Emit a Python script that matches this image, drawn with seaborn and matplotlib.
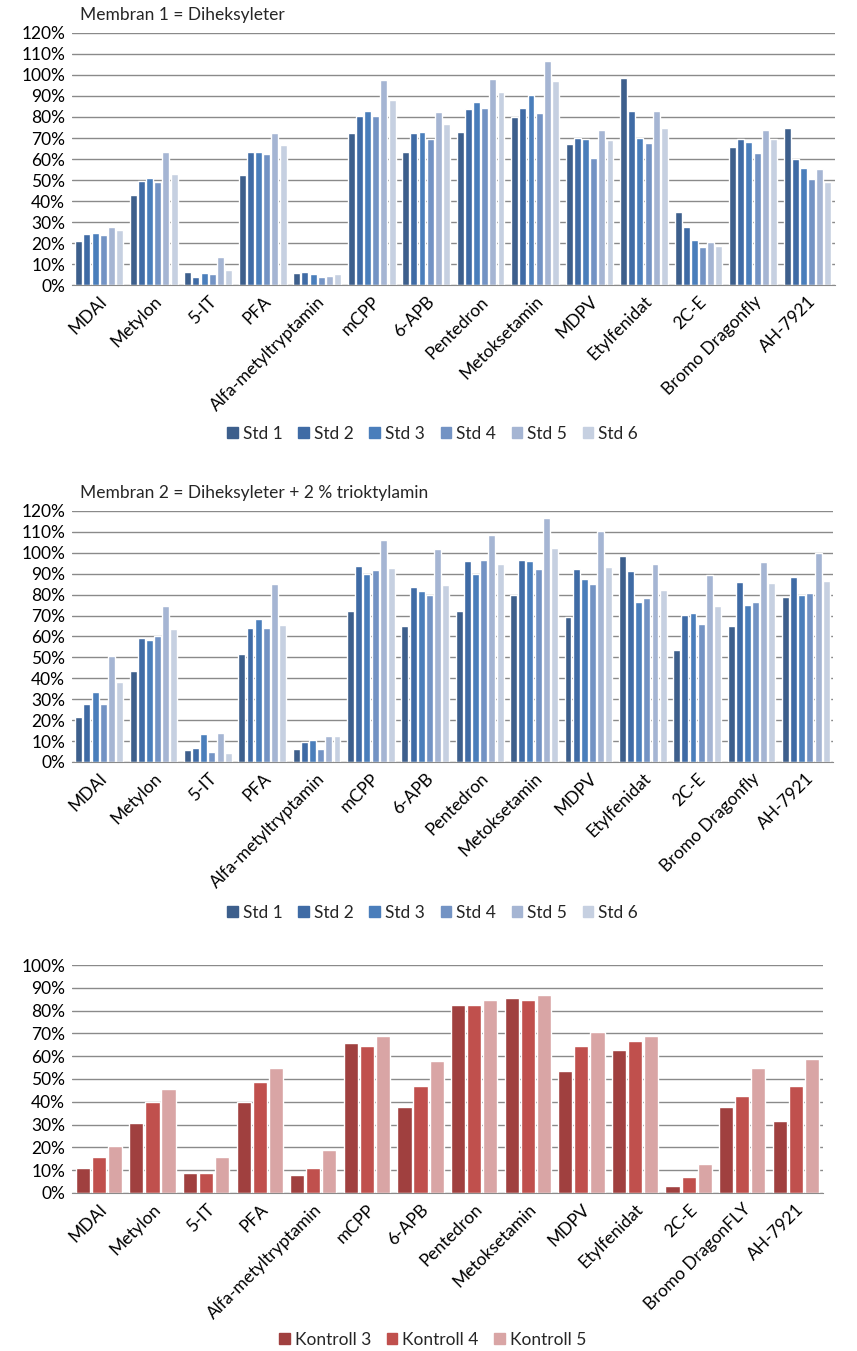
import numpy as np
import pandas as pd
import matplotlib
matplotlib.use("Agg")
import matplotlib.pyplot as plt
from matplotlib.ticker import PercentFormatter
import seaborn as sns

# substances (x categories)
substances = ["MDAI", "Metylon", "5-IT", "PFA", "Alfa-metyltryptamin", "mCPP", "6-APB",
              "Pentedron", "Metoksetamin", "MDPV", "Etylfenidat", "2C-E",
              "Bromo Dragonfly", "AH-7921"]
substances_k = substances[:12] + ["Bromo DragonFLY", "AH-7921"]

std_names = ["Std 1", "Std 2", "Std 3", "Std 4", "Std 5", "Std 6"]
kontroll_names = ["Kontroll 3", "Kontroll 4", "Kontroll 5"]

# Membran 1 = Diheksyleter, recovery in % (rows = substance, cols = Std 1..6)
membran1 = [
    [21, 24.5, 25, 24, 27.5, 26],
    [42.8, 49.5, 51, 49, 63.3, 52.8],
    [6, 3.7, 5.6, 5.1, 13.2, 7],
    [52.4, 63.3, 63.3, 62.4, 72.4, 66.7],
    [5.6, 6, 5.1, 3.7, 4.1, 5.1],
    [72.4, 80.5, 82.9, 80.5, 97.7, 88.2],
    [63.3, 72.4, 72.9, 69.6, 82.4, 76.7],
    [72.9, 83.9, 87.2, 84.4, 98.2, 92.0],
    [80.1, 84.4, 90.5, 82.0, 106.8, 97.2],
    [67.2, 70.0, 69.6, 60.5, 73.9, 69.1],
    [98.7, 82.9, 70.0, 67.6, 82.9, 74.8],
    [34.7, 27.5, 21.3, 18.0, 20.4, 18.5],
    [65.7, 69.6, 68.1, 62.9, 73.9, 69.6],
    [74.8, 60.2, 55.7, 50.5, 55.2, 49.0],
]

# Membran 2 = Diheksyleter + 2 % trioktylamin
membran2 = [
    [21.5, 27.7, 33.5, 27.7, 50.7, 38.2],
    [43.5, 59.3, 58.3, 60.2, 74.6, 63.6],
    [5.7, 6.7, 13.4, 4.8, 13.9, 4.3],
    [51.6, 64.1, 68.4, 64.1, 85.1, 65.5],
    [6.2, 9.7, 10.5, 6.2, 12.4, 12.4],
    [72.2, 93.7, 89.9, 91.8, 106.1, 92.7],
    [65.0, 83.7, 81.7, 79.8, 101.8, 84.6],
    [72.2, 96.1, 89.9, 96.6, 108.5, 94.7],
    [79.8, 96.6, 96.1, 92.3, 116.7, 102.3],
    [69.3, 92.3, 87.5, 85.1, 110.4, 93.2],
    [98.5, 91.3, 76.5, 78.4, 94.7, 82.2],
    [53.5, 70.3, 71.2, 66.0, 89.4, 74.6],
    [65.0, 86.1, 75.1, 76.5, 95.6, 85.6],
    [78.9, 88.4, 79.8, 80.8, 99.9, 86.5],
]

# Kontroll 3..5
kontroll = [
    [11.0, 15.8, 20.6],
    [30.7, 40.0, 45.7],
    [8.8, 8.8, 15.8],
    [40.0, 48.8, 54.9],
    [7.9, 11.0, 18.9],
    [65.9, 64.6, 69.0],
    [37.8, 47.0, 58.0],
    [82.6, 82.6, 84.8],
    [85.7, 84.8, 87.0],
    [53.6, 64.6, 70.7],
    [62.8, 66.8, 69.0],
    [3.1, 7.0, 12.7],
    [37.8, 42.6, 54.9],
    [31.6, 47.0, 58.9],
]

blues = ["#3d5f8c", "#3f6ba5", "#4a7ebb", "#7393c4", "#a5b5d3", "#c6d0e1"]
reds = ["#a0403f", "#c0504d", "#d9a5a5"]

sns.set_style("white")
plt.rcParams["font.family"] = ["Lato", "DejaVu Sans"]

fig = plt.figure(figsize=(8.57, 13.51), dpi=100)
FS = 12.5


def long_df(cats, rows, names):
    recs = []
    for c, vals in zip(cats, rows):
        for n, v in zip(names, vals):
            recs.append({"sub": c, "serie": n, "val": v / 100})
    return pd.DataFrame(recs)


def panel(rect, cats, rows, names, pal, ymax, gap, legend_y, title=None):
    ax = fig.add_axes(rect)
    df = long_df(cats, rows, names)
    sns.barplot(data=df, x="sub", y="val", hue="serie", palette=pal,
                width=0.9, gap=gap, ax=ax, legend=False, saturation=1)
    ax.set_ylim(0, ymax)
    ax.set_yticks(np.arange(0, ymax + 0.001, 0.1))
    ax.yaxis.set_major_formatter(PercentFormatter(1.0, decimals=0))
    ax.yaxis.grid(True, color="#8a8a8a", lw=1)
    ax.set_axisbelow(True)
    for s in ["top", "right", "left"]:
        ax.spines[s].set_visible(False)
    ax.spines["bottom"].set_color("#8a8a8a")
    ax.tick_params(axis="both", length=0, labelsize=FS, colors="black")
    ax.tick_params(axis="y", pad=5)
    ax.tick_params(axis="x", pad=6)
    ax.set_xlabel("")
    ax.set_ylabel("")
    ax.set_xticks(range(len(cats)))
    ax.set_xticklabels(cats, rotation=45, ha="right", rotation_mode="anchor")
    handles = [plt.Rectangle((0, 0), 1, 1, color=c) for c in pal]
    fig.legend(handles, names, loc="center", bbox_to_anchor=(0.505, legend_y),
               ncol=len(names), frameon=False, fontsize=FS,
               handlelength=0.6, handleheight=0.6, handletextpad=0.3,
               columnspacing=0.9)
    if title:
        fig.text(80 / 857, rect[1] + rect[3] + 0.0075, title, fontsize=FS,
                 va="bottom", ha="left")
    return ax


panel([0.084, 0.789, 0.890, 0.1866], substances, membran1, std_names, blues,
      1.2, 0.15, 0.679, "Membran 1 = Diheksyleter")
panel([0.084, 0.436, 0.888, 0.1858], substances, membran2, std_names, blues,
      1.2, 0.15, 0.3245, "Membran 2 = Diheksyleter + 2 % trioktylamin")
panel([0.084, 0.117, 0.876, 0.1687], substances_k, kontroll, kontroll_names, reds,
      1.0, 0.12, 0.0085)

fig.savefig("out.png", dpi=100)
